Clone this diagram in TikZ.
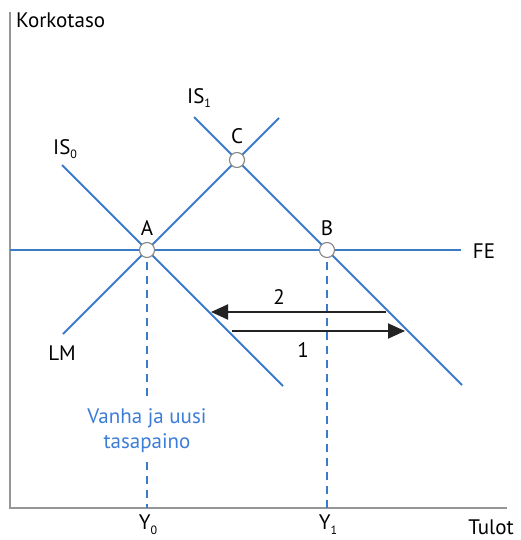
\documentclass[tikz,border=0pt]{standalone}
\usepackage{fontspec}
\setmainfont{PT Sans}
\usetikzlibrary{arrows.meta}
\definecolor{curveblue}{RGB}{58,122,200}
\definecolor{textblue}{RGB}{60,125,215}
\definecolor{axisgray}{RGB}{150,150,150}
\definecolor{arrowdark}{RGB}{35,35,35}
\newcommand\sbs[1]{\raisebox{-0.45ex}{\fontsize{12}{12}\selectfont #1}}
\begin{document}
\begin{tikzpicture}[x=1pt,y=-1pt,
  curve/.style={draw=curveblue,line width=1.9pt},
  axisline/.style={draw=axisgray,line width=1.4pt},
  guide/.style={draw=curveblue,line width=1.9pt,dash pattern=on 8pt off 6pt},
  pt/.style={circle,draw=axisgray!90!black,fill=white,line width=1.1pt,minimum size=15pt,inner sep=0pt},
  lbl/.style={font=\fontsize{21}{24}\selectfont,text=black,inner sep=0pt},
  bluelbl/.style={font=\fontsize{21}{25}\selectfont,text=textblue,align=center,inner sep=0pt},
  movearrow/.style={draw=arrowdark,line width=1.9pt,-{Triangle[length=17pt,width=15pt]}}]
\useasboundingbox (0,0) rectangle (521,540);
% axes
\coordinate (O) at (10,508);
\coordinate (ytop) at (10,12);
\coordinate (xend) at (507,508);
\draw[axisline] (ytop) -- (O) -- (xend);
% points
\coordinate (Ap) at (147,250);
\coordinate (Bp) at (327,250);
\coordinate (Cp) at (237,160);
% curve end points
\coordinate (FEl) at (10,250);
\coordinate (FEr) at (461,250);
\coordinate (IS0a) at (62,165);
\coordinate (IS0b) at (283,386);
\coordinate (IS1a) at (194,117);
\coordinate (IS1b) at (462,385);
\coordinate (LMa) at (63,334);
\coordinate (LMb) at (279,118);
\draw[curve] (FEl) -- (FEr);
\draw[curve] (IS0a) -- (IS0b);
\draw[curve] (IS1a) -- (IS1b);
\draw[curve] (LMa) -- (LMb);
% dashed guides
\coordinate (Ag0) at (147,262);
\coordinate (Ag1) at (147,400);
\coordinate (Ag2) at (147,462);
\coordinate (Ax) at (147,508);
\coordinate (Bg0) at (327,262);
\coordinate (Bx) at (327,508);
\draw[guide] (Ag0) -- (Ag1);
\draw[guide] (Ag2) -- (Ax);
\draw[guide] (Bg0) -- (Bx);
% circles
\node[pt] (A) at (Ap) {};
\node[pt] (B) at (Bp) {};
\node[pt] (C) at (Cp) {};
% arrows
\coordinate (a2s) at (386,312);
\coordinate (a2e) at (211,312);
\coordinate (a1s) at (232,331);
\coordinate (a1e) at (405,331);
\draw[movearrow] (a2s) -- (a2e);
\draw[movearrow] (a1s) -- (a1e);
% labels
\node[lbl,anchor=west] (ylab) at (16,20) {Korkotaso};
\node[lbl] (xlab) at (491,527) {Tulot};
\node[lbl] (Alab) at (147,228) {A};
\node[lbl] (Blab) at (327,228) {B};
\node[lbl] (Clab) at (237,136) {C};
\node[lbl] (FElab) at (484,251) {FE};
\node[lbl] (LMlab) at (62,353) {LM};
\node[lbl,anchor=west] (IS0lab) at (53,149) {IS\sbs{0}};
\node[lbl,anchor=west] (IS1lab) at (187,98) {IS\sbs{1}};
\node[lbl] (n2) at (279,297) {2};
\node[lbl] (n1) at (303,350) {1};
\node[lbl] (Y0) at (148,525) {Y\sbs{0}};
\node[lbl] (Y1) at (328,525) {Y\sbs{1}};
\node[bluelbl] (eq) at (147,431) {Vanha ja uusi\\tasapaino};
\end{tikzpicture}
\end{document}
